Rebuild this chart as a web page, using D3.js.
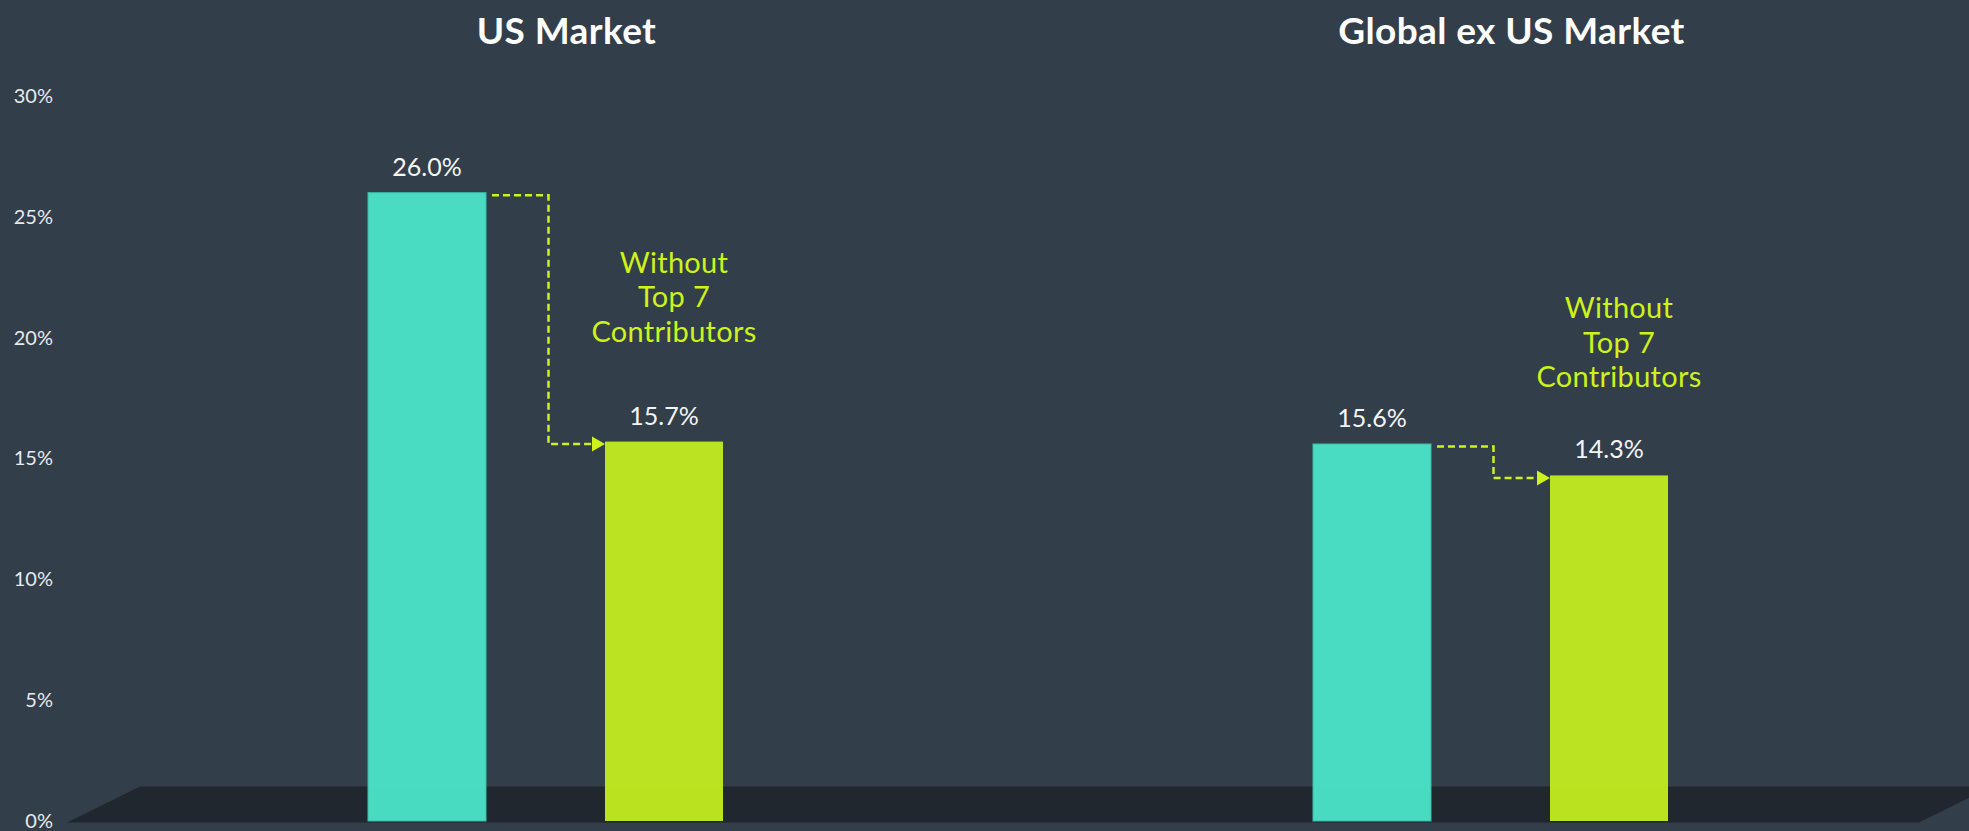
<!DOCTYPE html>
<html>
<head>
<meta charset="utf-8">
<script src="https://cdn.jsdelivr.net/npm/d3@7"></script>
<style>
  html, body { margin: 0; padding: 0; background: #323e49; }
  svg { display: block; font-family: Lato, "Noto Sans", sans-serif; }
</style>
</head>
<body>
<div id="chart"></div>
<script>
// data
const groups = ["US Market", "Global ex US Market"];
const series = ["All stocks", "Without Top 7"];
const allStocks = [26.0, 15.6];
const withoutTop7 = [15.7, 14.3];
const yTicks = [0, 5, 10, 15, 20, 25, 30];
const noteLines = ["Without", "Top 7", "Contributors"];

const width = 1969, height = 831;
const colors = { bg: "#323e49", floor: "#20272e", teal: "#4ae3c8", green: "#c0ea1f", note: "#cdf21c" };
const noteGap = [169, 157]; // distance of the note above the green bar, per group

const svg = d3.select("#chart").append("svg")
  .attr("width", width)
  .attr("height", height);

svg.append("rect").attr("width", width).attr("height", height).attr("fill", colors.bg);

const y = d3.scaleLinear().domain([0, 30]).range([821, 96]);
const x0 = d3.scaleBand().domain(groups).range([73, 1963]);
const x1 = d3.scaleBand().domain(series).range([295, 650]).paddingInner(0.5021);
const bw = x1.bandwidth();

// floor
const fy0 = y(0) + 1.5, fy1 = y(0) - 34.5;
svg.append("path")
  .attr("d", `M67,${fy0} L140,${fy1} L1992,${fy1} L1919,${fy0} Z`)
  .attr("fill", colors.floor);

// y axis
const yAxis = d3.axisLeft(y).tickValues(yTicks).tickSize(0).tickFormat(d => d + "%");
const ax = svg.append("g").attr("transform", "translate(53,0)").call(yAxis);
ax.select(".domain").remove();
ax.selectAll("text")
  .attr("x", 0)
  .attr("fill", "#e8eaec")
  .style("font-size", "20px")
  .style("font-family", "Lato, sans-serif");

const rows = groups.map((g, i) => ({ group: g, i, values: [allStocks[i], withoutTop7[i]] }));

const g = svg.selectAll(".grp").data(rows).join("g")
  .attr("class", "grp")
  .attr("transform", d => `translate(${x0(d.group)},0)`);

// titles
g.append("text")
  .attr("x", x0.bandwidth() / 2 + 21)
  .attr("y", 44)
  .attr("text-anchor", "middle")
  .attr("fill", "#ffffff")
  .style("font-size", "37px")
  .style("font-weight", "bold")
  .style("letter-spacing", "0.4px")
  .text(d => d.group);

// bars
g.selectAll(".bar").data(d => d.values.map((v, j) => ({ key: series[j], v })))
  .join("rect")
  .attr("class", "bar")
  .attr("x", d => x1(d.key))
  .attr("y", d => y(d.v))
  .attr("width", bw)
  .attr("height", d => y(0) - y(d.v))
  .attr("fill", (d, j) => j === 0 ? colors.teal : colors.green)
  .attr("fill-opacity", 0.96)
  .attr("stroke", (d, j) => j === 0 ? "#3cbca6" : "none")
  .attr("stroke-width", 1);

// value labels
g.selectAll(".val").data(d => d.values.map((v, j) => ({ key: series[j], v })))
  .join("text")
  .attr("class", "val")
  .attr("x", d => x1(d.key) + bw / 2)
  .attr("y", d => y(d.v) - 17)
  .attr("text-anchor", "middle")
  .attr("fill", "#f4f4f4")
  .style("font-size", "25px")
  .text(d => d.v.toFixed(1) + "%");

// dashed connector with arrow
g.each(function(d) {
  const sel = d3.select(this);
  const sx = x1(series[0]) + bw + 6;
  const ex = x1(series[1]);
  const mx = (x1(series[0]) + bw + ex) / 2 + 3;
  const sy = y(d.values[0]) + 2.5;
  const ey = y(d.values[1]) + 2.5;
  sel.append("path")
    .attr("d", `M${sx},${sy} H${mx} V${ey} H${ex - 12}`)
    .attr("fill", "none")
    .attr("stroke", colors.note)
    .attr("stroke-width", 2.5)
    .attr("stroke-dasharray", "7,4");
  sel.append("path")
    .attr("d", `M${ex},${ey} L${ex - 13},${ey - 7.5} L${ex - 13},${ey + 7.5} Z`)
    .attr("fill", colors.note);

  // note above the green bar
  const cx = x1(series[1]) + bw / 2 + 10;
  const top = y(d.values[1]) - noteGap[d.i];
  sel.append("text")
    .attr("text-anchor", "middle")
    .attr("fill", colors.note)
    .style("font-size", "29px")
    .style("letter-spacing", "0.3px")
    .selectAll("tspan").data(noteLines).join("tspan")
    .attr("x", cx)
    .attr("y", (t, k) => top + k * 34.5)
    .text(t => t);
});
</script>
</body>
</html>
